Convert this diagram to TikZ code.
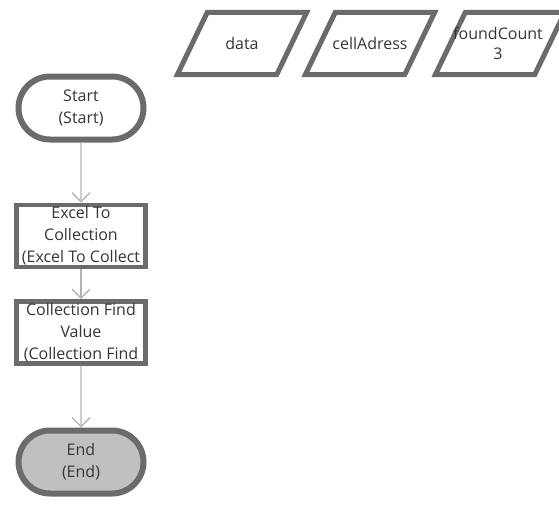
\documentclass[tikz,border=0pt]{standalone}
\usepackage{fontspec}
\setmainfont{Open Sans}
\usetikzlibrary{positioning,shapes.misc,arrows.meta}

\definecolor{shapeline}{HTML}{6B6B6B}
\definecolor{flowline}{HTML}{B4B4B4}
\definecolor{labeltext}{HTML}{363636}
\definecolor{endfill}{HTML}{C0C0C0}

\begin{document}
\begin{tikzpicture}[x=1pt, y=1pt,
    every node/.style={text=labeltext, font=\fontsize{16}{22}\selectfont, align=center, inner sep=0pt},
    terminal/.style={draw=shapeline, line width=6pt, rounded rectangle, fill=white, minimum width=125pt, minimum height=63pt},
    action/.style={draw=shapeline, line width=4.5pt, rectangle, fill=white, minimum width=129pt, minimum height=62pt},
    varbox/.style={rectangle, minimum width=99pt, minimum height=62pt},
    varline/.style={draw=shapeline, line width=5pt, line join=miter},
    flow/.style={draw=flowline, line width=1.3pt, -{Straight Barb[length=9pt, width=18pt, line width=1.3pt]}},
    node distance=60pt]
    \useasboundingbox (0,0) rectangle (559,-504);
    % variables
    \node (data) [varbox] at (242,-43.5) {data};
    \node (cell) [varbox] at (370,-43.5) {cellAdress};
    \node (found) [varbox] at (500,-43.5) {};
    \foreach \v in {data,cell,found}
      \draw[varline] ([xshift=15pt]\v.north west) -- ([xshift=15pt]\v.north east)
        -- ([xshift=-15pt]\v.south east) -- ([xshift=-15pt]\v.south west) -- cycle;
    \node (foundtext) [font=\fontsize{16}{20}\selectfont] at (498,-43) {foundCount\\3};
    % flow
    \node (start) [terminal] at (81,-108) {Start\\(Start)};
    \node (excel) [action, below=of start] {Excel To\\Collection\\(Excel To Collect};
    \node (find) [action, below=30pt of excel] {Collection Find\\Value\\(Collection Find};
    \node (end) [terminal, fill=endfill, below=62pt of find] {End\\(End)};
    \draw[flow] (start) -- (excel);
    \draw[flow] (excel) -- (find);
    \draw[flow] (find) -- (end);
\end{tikzpicture}
\end{document}
